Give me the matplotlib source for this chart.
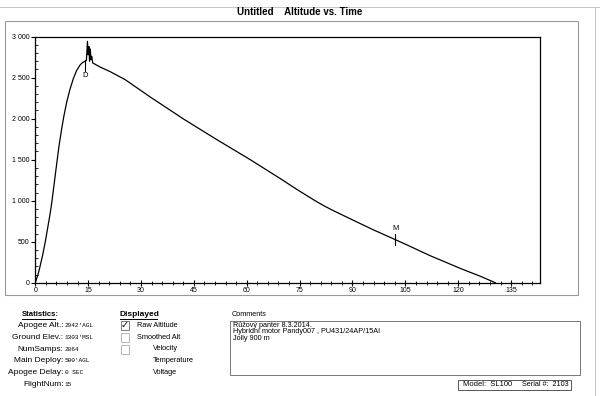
import numpy as np
import matplotlib.pyplot as plt
from matplotlib.ticker import MultipleLocator, FuncFormatter
from matplotlib.lines import Line2D
from matplotlib.patches import Rectangle

plt.rcParams['font.family'] = ['Liberation Sans', 'DejaVu Sans']

## flight data (s, ft AGL)
time_s = [0, 0.77, 1.3, 2.1, 2.75, 3.4, 4.2, 4.65, 5.1, 5.6, 6.1, 6.7, 7.5, 8.1, 8.9,
          9.85, 10.8, 11.7, 12.7, 13.4, 14.1, 14.5, 14.8, 15.0, 15.2, 15.4, 15.6,
          15.8, 16.0, 16.3, 18.4, 21.2, 25.5, 32.6, 42.1, 51.5, 61.0, 69.5, 74.2,
          79.0, 81.8, 84.6, 90.3, 95.9, 102.2, 105.4, 112.0, 116.7, 121.0, 123.8,
          126.2, 130.5]
altitude = [0, 100, 190, 340, 480, 640, 840, 970, 1120, 1290, 1460, 1660, 1880, 2030,
            2200, 2360, 2490, 2585, 2655, 2685, 2700, 2712, 2942, 2780, 2880, 2700,
            2850, 2720, 2760, 2680, 2630, 2575, 2476, 2265, 1995, 1745, 1500, 1270,
            1138, 1010, 940, 878, 760, 645, 524, 462, 330, 245, 167, 120, 80, 0]

event_labels = ['D', 'M']
event_times = [14.1, 102.2]
event_alts = [2650, 530]

stat_names = ['Apogee Alt.:', 'Ground Elev.:', 'NumSamps:', 'Main Deploy:',
              'Apogee Delay:', 'FlightNum:']
stat_values = ["2942'AGL", "1303'MSL", '2864', "500'AGL", '0 SEC', '15']

disp_names = ['Raw Altitude', 'Smoothed Alt', 'Velocity', 'Temperature', 'Voltage']
disp_checked = [True, False, False, None, None]

comments = ['Růžový panter 8.3.2014.',
            'Hybridní motor Pandy007 , PU431/24AP/15AI',
            'Jolly 900 m']

W, H = 600, 396
fig = plt.figure(figsize=(6, 3.96), dpi=100)


def fx(x):
    return x / W


def fy(y):
    return 1 - y / H


def ftext(x, y, s, **kw):
    return fig.text(fx(x), fy(y), s, **kw)


def fline(xs, ys, **kw):
    fig.add_artist(Line2D([fx(v) for v in xs], [fy(v) for v in ys],
                          transform=fig.transFigure, **kw))


def frect(x0, y0, x1, y1, **kw):
    fig.add_artist(Rectangle((fx(x0), fy(y1)), fx(x1) - fx(x0), fy(y0) - fy(y1),
                             transform=fig.transFigure, fill=False, **kw))


## page / frame borders
fline([0, 600], [7, 7], color='#bbbbbb', lw=0.6)
fline([595, 595], [7, 396], color='#bbbbbb', lw=0.6)
frect(5, 21, 578, 295, ec='#999999', lw=0.8)

ftext(300, 12, 'Untitled    Altitude vs. Time', ha='center', va='center',
      fontsize=7, fontweight='bold')

## main plot
ax = fig.add_axes([fx(35.3), fy(282.7), fx(540) - fx(35.3), fy(36.7) - fy(282.7)])
ax.plot(time_s, altitude, color='black', lw=0.9)
for lab, t, a in zip(event_labels, event_times, event_alts):
    ax.plot([t, t], [a - 70, a + 70], color='black', lw=0.8)
    if lab == 'D':
        ax.text(t, a - 80, lab, ha='center', va='top', fontsize=5.5)
    else:
        ax.text(t, a + 90, lab, ha='center', va='bottom', fontsize=5.5)

ax.set_xlim(0, 143.2)
ax.set_ylim(0, 3000)
ax.xaxis.set_major_locator(MultipleLocator(15))
ax.xaxis.set_minor_locator(MultipleLocator(3))
ax.yaxis.set_major_locator(MultipleLocator(500))
ax.yaxis.set_minor_locator(MultipleLocator(100))
ax.yaxis.set_major_formatter(FuncFormatter(lambda v, p: f'{int(v):,}'.replace(',', ' ')))
ax.tick_params(axis='both', which='major', labelsize=5, length=3, width=0.8, pad=1)
ax.tick_params(axis='x', which='major', direction='inout', length=4)
ax.tick_params(axis='x', which='minor', direction='inout', length=3, width=0.6)
ax.tick_params(axis='y', which='minor', direction='in', length=2, width=0.6)
for s in ax.spines.values():
    s.set_linewidth(0.9)

## statistics
ftext(21.7, 314.3, 'Statistics:', fontsize=5.6, fontweight='bold', va='center')
fline([21.7, 55], [318.5, 318.5], color='black', lw=0.7)
for i, (n, v) in enumerate(zip(stat_names, stat_values)):
    y = 325.3 + i * 11.9
    ftext(63.5, y, n, fontsize=6, ha='right', va='center')
    ftext(65, y, v, fontsize=4.4, ha='left', va='center', family='Liberation Mono')

## displayed
ftext(120, 314.3, 'Displayed', fontsize=6, fontweight='bold', va='center')
fline([120, 157], [318.5, 318.5], color='black', lw=0.7)
for i, (n, c) in enumerate(zip(disp_names, disp_checked)):
    y = 325.3 + i * 11.85
    if c is None or i >= 2:
        xl = 152.7
    else:
        xl = 136.7
    ftext(xl, y, n, fontsize=5.3, va='center')
    if c is not None:
        frect(120.7, y - 4.5, 128.8, y + 4.5, ec='#aaaaaa' if not c else '#666666', lw=0.6)
        if c:
            ftext(124.7, y, '✓', fontsize=7, ha='center', va='center', family='DejaVu Sans')

## comments
ftext(231.7, 314.3, 'Comments', fontsize=5.2, va='center')
frect(230, 320.7, 580, 375, ec='#777777', lw=0.7)
for i, line in enumerate(comments):
    ftext(233, 325.3 + i * 6.4, line, fontsize=5.2, va='center')

## model box
frect(458.3, 379.5, 570.7, 390, ec='#555555', lw=0.7)
ftext(463, 385, 'Model:  SL100', fontsize=5.5, va='center')
ftext(521.7, 385, 'Serial #:  2103', fontsize=5.2, va='center')

fig.savefig('out.png', dpi=100)
